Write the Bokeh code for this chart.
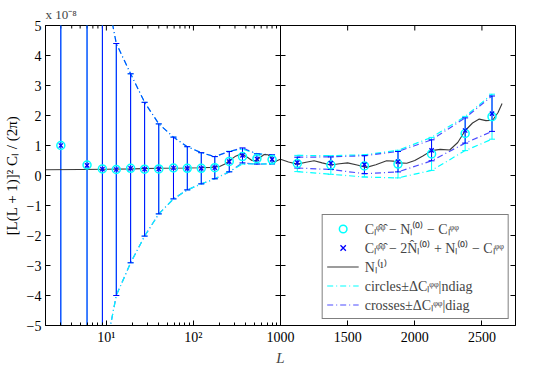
import numpy as np
from bokeh.plotting import figure
from bokeh.models import (Range1d, LinearScale, FixedTicker, CustomJSTickFormatter,
                          Span, Legend, LegendItem, ColumnDataSource, Title)
from bokeh.embed import file_html
from bokeh.resources import INLINE

# ---------------- data (y in units of 1e-8) ----------------
# left panel (log L)
L_left = [3, 6, 9, 13, 19, 27.5, 40, 59, 85, 123, 176, 258, 366, 536, 800]
circ_left = [1.0, 0.35, 0.22, 0.2, 0.24, 0.21, 0.22, 0.25, 0.24, 0.24, 0.26, 0.47, 0.63, 0.56, 0.53]
cross_left = [1.0, 0.34, 0.21, 0.2, 0.24, 0.21, 0.22, 0.25, 0.24, 0.24, 0.26, 0.46, 0.67, 0.55, 0.54]
err_ndiag_left = [30, 12, 6.6, 4.2, 3.15, 2.23, 1.5, 1.03, 0.72, 0.52, 0.37, 0.34, 0.25, 0.17, 0.15]
err_diag_left = [30, 12, 6.6, 4.2, 3.15, 2.23, 1.5, 1.03, 0.72, 0.52, 0.37, 0.34, 0.25, 0.17, 0.15]

# right panel (linear L)
L_right = [1125, 1375, 1625, 1875, 2125, 2375, 2575]
circ_right = [0.40, 0.35, 0.32, 0.38, 0.72, 1.40, 1.96]
cross_right = [0.43, 0.41, 0.36, 0.46, 0.84, 1.50, 2.06]
err_ndiag_right = [0.27, 0.31, 0.37, 0.46, 0.55, 0.57, 0.75]
err_diag_right = [0.18, 0.21, 0.30, 0.34, 0.35, 0.42, 0.59]

# N_L^(1) curve
N1_L_left = [2, 5, 10, 20, 40, 80, 120, 160, 200, 230, 260, 300, 340, 380, 420,
             470, 520, 580, 650, 720, 780, 850, 920, 1000]
N1_left = [0.19, 0.2, 0.21, 0.22, 0.24, 0.25, 0.26, 0.27, 0.3, 0.38, 0.5, 0.63, 0.7,
           0.68, 0.6, 0.5, 0.48, 0.6, 0.7, 0.69, 0.6, 0.44, 0.5, 0.54]
N1_L_right = [1000, 1060, 1125, 1190, 1250, 1310, 1375, 1440, 1500, 1570, 1640, 1710,
              1790, 1840, 1880, 1940, 2000, 2060, 2125, 2190, 2260, 2320, 2376, 2430,
              2480, 2530, 2580, 2620, 2650]
N1_right = [0.54, 0.45, 0.38, 0.44, 0.49, 0.42, 0.35, 0.39, 0.42, 0.35, 0.27, 0.36,
            0.49, 0.48, 0.42, 0.41, 0.5, 0.65, 0.83, 0.87, 0.85, 1.1, 1.5, 1.75,
            1.88, 1.83, 1.84, 2.1, 2.4]

y_ticks = [-5, -4, -3, -2, -1, 0, 1, 2, 3, 4, 5]
right_ticks = [1000, 1500, 2000, 2500]
right_tick_labels = ["1000", "1500", "2000", "2500"]
log_ticks = [10, 100]
log_tick_labels = ["10\u00b9", "10\u00b2"]
log_minor = [3, 4, 5, 6, 7, 8, 9, 20, 30, 40, 50, 60, 70, 80, 90,
             200, 300, 400, 500, 600, 700, 800, 900]

labels = [
    "C\u2097\u1d60\u0302\u1d60\u0302 \u2212 N\u2097\u207d\u2070\u207e \u2212 C\u2097\u1d60\u1d60",
    "C\u2097\u1d60\u0302\u1d60\u0302 \u2212 2N\u0302\u2097\u207d\u2070\u207e + N\u2097\u207d\u2070\u207e \u2212 C\u2097\u1d60\u1d60",
    "N\u2097\u207d\u00b9\u207e",
    "circles\u00b1\u0394C\u2097\u1d60\u1d60|ndiag",
    "crosses\u00b1\u0394C\u2097\u1d60\u1d60|diag",
]

# ---------------- ranges: two panels sharing one frame ----------------
X_LEFT = (2, 1000)
X_RIGHT = (1000, 2750)
Y_LIM = (-5, 5)
SPLIT = 0.5
log_lo, log_hi = np.log10(X_LEFT[0]), np.log10(X_LEFT[1])
log_full_hi = 10 ** (log_lo + (log_hi - log_lo) / SPLIT)
lin_full_lo = X_RIGHT[0] - (X_RIGHT[1] - X_RIGHT[0]) * SPLIT / (1 - SPLIT)


def lin_to_log(v):
    frac = (v - lin_full_lo) / (X_RIGHT[1] - lin_full_lo)
    return float(10 ** (log_lo + frac * (np.log10(log_full_hi) - log_lo)))


FONT = "Liberation Serif"
BLUE = "#0000ff"
CYAN = "#00ffff"
DASHDOT = "6 3 1 3"

p = figure(width=523, height=365, x_axis_type="log", output_backend="svg",
           toolbar_location=None, x_range=Range1d(X_LEFT[0], log_full_hi),
           y_range=Range1d(*Y_LIM), min_border_left=38, min_border_right=8,
           min_border_top=22, min_border_bottom=10,
           title="x 10\u207b\u2078")
p.extra_x_ranges = {"lin": Range1d(lin_full_lo, X_RIGHT[1])}
p.extra_x_scales = {"lin": LinearScale()}
p.grid.visible = False
p.outline_line_color = "black"
p.outline_line_width = 1
p.background_fill_color = "white"
p.title.text_font = FONT
p.title.text_font_size = "13px"
p.title.text_font_style = "normal"
p.title.standoff = 8
p.title.offset = 0

# ---- axes ----
all_ticks = [float(t) for t in log_ticks] + [lin_to_log(v) for v in right_ticks]
all_labels = log_tick_labels + right_tick_labels
fmt_code = """
for (let i = 0; i < vals.length; i++) {
  if (Math.abs(vals[i] - tick) <= 1e-6 * Math.abs(vals[i])) return labels[i];
}
return "";
"""
xfmt = CustomJSTickFormatter(args=dict(vals=all_ticks, labels=all_labels), code=fmt_code)
xticker = FixedTicker(ticks=all_ticks, minor_ticks=log_minor)

xb = p.xaxis[0]
xb.ticker = xticker
xb.formatter = xfmt
yl = p.yaxis[0]
yl.ticker = FixedTicker(ticks=y_ticks)
yl.formatter = CustomJSTickFormatter(code="return tick < 0 ? '\\u2212' + Math.abs(tick) : '' + tick;")

for ax in (xb, yl):
    ax.major_tick_in = 5
    ax.major_tick_out = 0
    ax.minor_tick_in = 3
    ax.minor_tick_out = 0
    ax.axis_line_color = "black"
    ax.major_tick_line_color = "black"
    ax.minor_tick_line_color = "black"
    ax.major_label_text_font = FONT
    ax.major_label_text_font_size = "14px"
    ax.major_label_text_color = "black"
    ax.axis_label_text_font = FONT
    ax.axis_label_text_color = "black"

xb.major_label_standoff = 4

# x-axis title "L", centred under the whole frame (i.e. under the panel split)
p.add_layout(Title(text="L", align="center", text_font=FONT, text_font_size="15px",
                   text_font_style="italic", standoff=0, offset=0), "below")

yl.major_label_standoff = 4
yl.axis_label = "[L(L + 1)]\u00b2 C\u2097 / (2\u03c0)"
yl.axis_label_text_font_size = "15px"
yl.axis_label_text_font_style = "normal"
yl.axis_label_standoff = 4

# inward ticks on the top border, right border and panel separator
n_y = len(y_ticks)
p.scatter(x=log_ticks, y=[Y_LIM[1]] * len(log_ticks), marker="dash", angle=np.pi / 2,
          size=10, line_color="black")
p.scatter(x=log_minor, y=[Y_LIM[1]] * len(log_minor), marker="dash", angle=np.pi / 2,
          size=6, line_color="black")
p.scatter(x=right_ticks, y=[Y_LIM[1]] * len(right_ticks), marker="dash", angle=np.pi / 2,
          size=10, line_color="black", x_range_name="lin")
p.scatter(x=[X_RIGHT[1]] * n_y, y=y_ticks, marker="dash", size=10, line_color="black",
          x_range_name="lin")
p.add_layout(Span(location=X_LEFT[1], dimension="height", line_color="black", line_width=1))
p.scatter(x=[X_LEFT[1]] * n_y, y=y_ticks, marker="dash", size=10,
          line_color="black", line_width=1)


def draw_panel(Ls, circ, cross, e_nd, e_d, N1_L, N1_v, rng):
    kw = {} if rng is None else {"x_range_name": rng}
    circ = np.array(circ, float)
    cross = np.array(cross, float)
    src = ColumnDataSource(dict(
        L=Ls, circ=circ, cross=cross,
        c_up=circ + np.array(e_nd), c_lo=circ - np.array(e_nd),
        x_up=cross + np.array(e_d), x_lo=cross - np.array(e_d)))
    r = {}
    r["c_up"] = p.line("L", "c_up", source=src, line_color=CYAN, line_dash=DASHDOT, line_width=1.2, **kw)
    r["x_up"] = p.line("L", "x_up", source=src, line_color=BLUE, line_dash=DASHDOT, line_width=1.2, line_alpha=0.7, **kw)
    p.line("L", "x_lo", source=src, line_color=BLUE, line_dash=DASHDOT, line_width=1.2, line_alpha=0.7, **kw)
    p.line("L", "c_lo", source=src, line_color=CYAN, line_dash=DASHDOT, line_width=1.2, **kw)
    p.segment(x0="L", y0="c_lo", x1="L", y1="c_up", source=src, line_color=CYAN, line_width=1, **kw)
    p.scatter("L", "c_up", source=src, marker="dash", size=6, line_color=CYAN, **kw)
    p.scatter("L", "c_lo", source=src, marker="dash", size=6, line_color=CYAN, **kw)
    p.segment(x0="L", y0="x_lo", x1="L", y1="x_up", source=src, line_color=BLUE, line_width=1, **kw)
    p.scatter("L", "x_up", source=src, marker="dash", size=6, line_color=BLUE, **kw)
    p.scatter("L", "x_lo", source=src, marker="dash", size=6, line_color=BLUE, **kw)
    r["n1"] = p.line(N1_L, N1_v, line_color="#3a3a3a", line_width=1.1, **kw)
    r["circ"] = p.scatter("L", "circ", source=src, marker="circle", size=8, line_color=CYAN,
                          line_width=1.5, fill_alpha=0, **kw)
    r["cross"] = p.scatter("L", "cross", source=src, marker="x", size=6, line_color=BLUE,
                           line_width=1.3, **kw)
    return r


draw_panel(L_left, circ_left, cross_left, err_ndiag_left, err_diag_left,
           N1_L_left, N1_left, None)
rr = draw_panel(L_right, circ_right, cross_right, err_ndiag_right, err_diag_right,
                N1_L_right, N1_right, "lin")

legend = Legend(items=[
    LegendItem(label=labels[0], renderers=[rr["circ"]]),
    LegendItem(label=labels[1], renderers=[rr["cross"]]),
    LegendItem(label=labels[2], renderers=[rr["n1"]]),
    LegendItem(label=labels[3], renderers=[rr["c_up"]]),
    LegendItem(label=labels[4], renderers=[rr["x_up"]]),
], location="bottom_right")
legend.label_text_font = FONT
legend.label_text_font_size = "14px"
legend.border_line_color = "black"
legend.border_line_width = 1
legend.background_fill_alpha = 1
legend.padding = 4
legend.spacing = 0
legend.margin = 6
legend.label_height = 19
legend.glyph_height = 19
legend.glyph_width = 32
legend.label_standoff = 6
p.add_layout(legend)

open("out.html", "w").write(file_html(p, INLINE))
